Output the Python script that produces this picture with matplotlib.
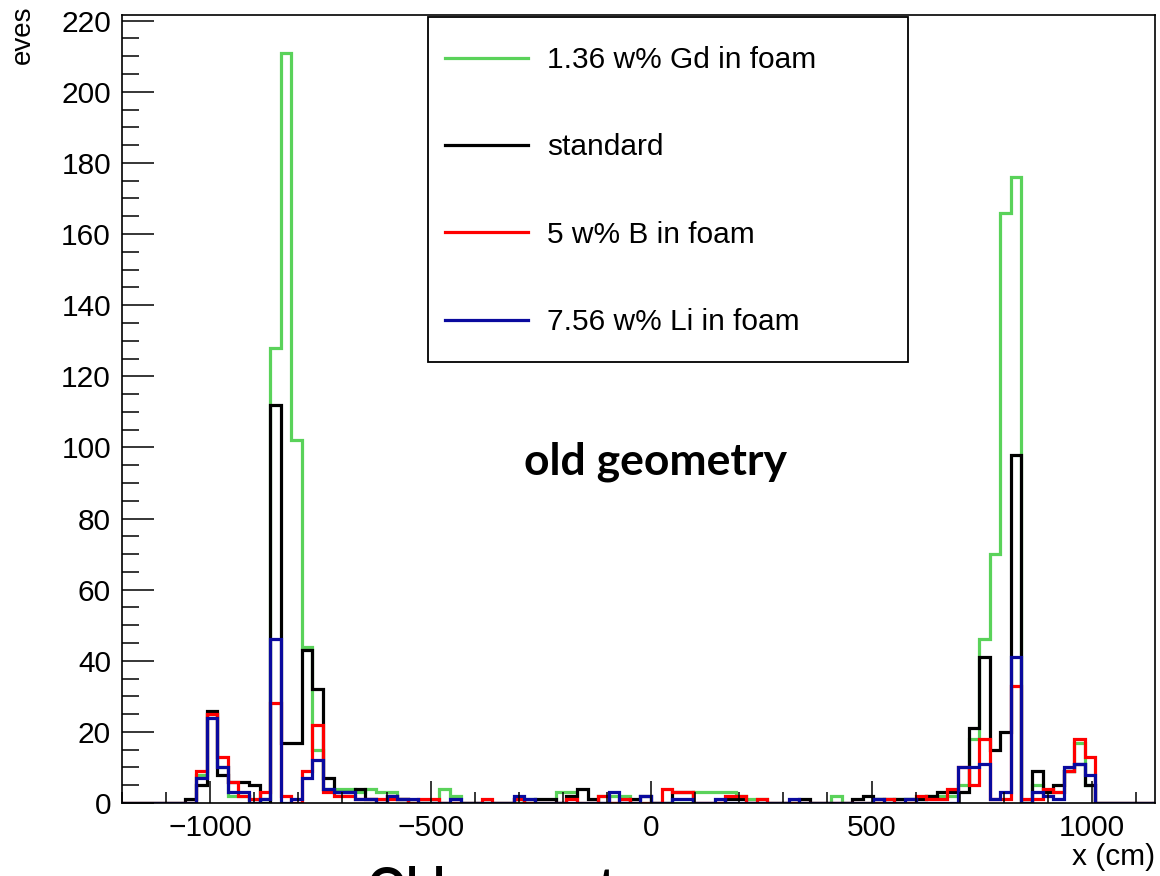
import numpy as np
import matplotlib
matplotlib.use("Agg")
import matplotlib.pyplot as plt
from matplotlib.lines import Line2D
from matplotlib.patches import Rectangle
from matplotlib.ticker import MultipleLocator

# histogram binning: 100 bins of 24 cm between -1200 and 1200
bin_edges = np.arange(-1200, 1201, 24)

# counts per bin
gd_foam = [0, 0, 0, 0, 0, 0, 0, 8, 25, 10,
           2, 2, 0, 1, 128, 211, 102, 44, 15, 4,
           4, 4, 3, 4, 3, 3, 1, 0, 0, 0,
           4, 2, 0, 0, 0, 0, 0, 0, 1, 0,
           0, 3, 3, 0, 0, 2, 2, 2, 0, 0,
           0, 0, 0, 0, 3, 3, 3, 3, 2, 1,
           1, 0, 0, 0, 0, 0, 0, 2, 0, 0,
           0, 1, 0, 1, 1, 1, 2, 2, 2, 5,
           18, 46, 70, 166, 176, 0, 5, 3, 3, 9,
           17, 5, 0, 0, 0, 0, 0, 0, 0, 0]
standard = [0, 0, 0, 0, 0, 0, 1, 5, 26, 8,
            6, 6, 5, 0, 112, 17, 17, 43, 32, 7,
            3, 3, 4, 1, 0, 2, 1, 0, 0, 0,
            0, 0, 0, 0, 0, 0, 0, 1, 0, 1,
            1, 0, 2, 4, 1, 0, 0, 0, 1, 2,
            0, 0, 3, 3, 0, 0, 0, 1, 1, 0,
            0, 0, 0, 0, 1, 0, 0, 0, 0, 1,
            2, 1, 1, 1, 1, 1, 2, 3, 3, 3,
            21, 41, 15, 20, 98, 0, 9, 3, 5, 9,
            11, 5, 0, 0, 0, 0, 0, 0, 0, 0]
b_foam = [0, 0, 0, 0, 0, 0, 0, 9, 25, 13,
          6, 2, 1, 3, 28, 2, 0, 9, 22, 3,
          2, 2, 1, 1, 1, 1, 1, 0, 1, 1,
          0, 0, 0, 0, 1, 0, 0, 1, 0, 0,
          0, 0, 1, 0, 0, 2, 0, 1, 0, 0,
          0, 4, 3, 3, 0, 0, 0, 2, 2, 0,
          1, 0, 0, 0, 0, 0, 0, 0, 0, 0,
          0, 0, 1, 0, 0, 2, 1, 1, 4, 10,
          5, 18, 1, 1, 33, 1, 1, 4, 3, 9,
          18, 13, 0, 0, 0, 0, 0, 0, 0, 0]
li_foam = [0, 0, 0, 0, 0, 0, 0, 7, 24, 10,
           3, 3, 0, 1, 46, 0, 1, 7, 12, 4,
           3, 3, 1, 1, 0, 2, 1, 1, 0, 0,
           0, 1, 0, 0, 0, 0, 0, 2, 1, 0,
           0, 0, 0, 0, 0, 0, 3, 0, 0, 2,
           0, 0, 1, 1, 0, 0, 1, 0, 0, 0,
           0, 0, 0, 1, 0, 0, 0, 0, 0, 0,
           0, 1, 0, 0, 1, 0, 0, 0, 0, 10,
           10, 11, 1, 3, 41, 0, 3, 2, 1, 10,
           11, 8, 0, 0, 0, 0, 0, 0, 0, 0]

labels = ["1.36 w% Gd in foam", "standard", "5 w% B in foam", "7.56 w% Li in foam"]
colors = ["#5ad25a", "#000000", "#ff0000", "#0a0a9e"]

plt.rcParams["font.family"] = ["Liberation Sans", "DejaVu Sans"]

W, H = 1160, 876
fig = plt.figure(figsize=(W / 100, H / 100), dpi=100)
ax = fig.add_axes([122 / W, 1 - 803 / H, (1155 - 122) / W, (803 - 15) / H])

# draw in the same order as ROOT: the last one ends up on top
for vals, col in zip([gd_foam, standard, b_foam, li_foam], colors):
    ax.stairs(vals, bin_edges, color=col, lw=2.3, baseline=0)

ax.set_xlim(-1200, 1143)
ax.set_ylim(0, 221.6)

ax.xaxis.set_major_locator(MultipleLocator(500))
ax.xaxis.set_minor_locator(MultipleLocator(100))
ax.yaxis.set_major_locator(MultipleLocator(20))
ax.yaxis.set_minor_locator(MultipleLocator(5))
ax.tick_params(axis="both", which="both", direction="in", top=False, right=False,
               labelsize=21.5, width=1.1)
ax.tick_params(axis="x", which="major", length=16, pad=8)
ax.tick_params(axis="x", which="minor", length=8)
ax.tick_params(axis="y", which="major", length=23, pad=8)
ax.tick_params(axis="y", which="minor", length=12)
for sp in ax.spines.values():
    sp.set_linewidth(1.2)

fig.text(1155 / W, 1 - 843 / H, "x (cm)", ha="right", va="top", fontsize=21.5)
fig.text(10 / W, 1 - 5 / H, "eves", rotation=90, ha="left", va="top", fontsize=20)

# legend: entries without frame, box drawn separately
handles = [Line2D([], [], color=c, lw=2.3) for c in colors]
leg = ax.legend(handles, labels, loc="upper left",
                bbox_to_anchor=(445 / W, 1 - 46 / H),
                bbox_transform=fig.transFigure, fontsize=21.5, frameon=False,
                handlelength=2.78, handletextpad=0.64, labelspacing=1.99,
                borderpad=0, borderaxespad=0)
fig.add_artist(Rectangle((428 / W, 1 - 362 / H), 480 / W, 345 / H,
                         transform=fig.transFigure, fill=False,
                         edgecolor="black", lw=1.3, zorder=5))

fig.text(655 / W, 1 - 462 / H, "old geometry", ha="center", va="center",
         fontsize=32, fontweight="bold", family=["Lato", "DejaVu Sans"])
fig.text(368 / W, 1 - 866 / H, "Old geometry", ha="left", va="top",
         fontsize=34, fontweight="bold", family=["Lato", "DejaVu Sans"])

fig.savefig("out.png", dpi=100)
